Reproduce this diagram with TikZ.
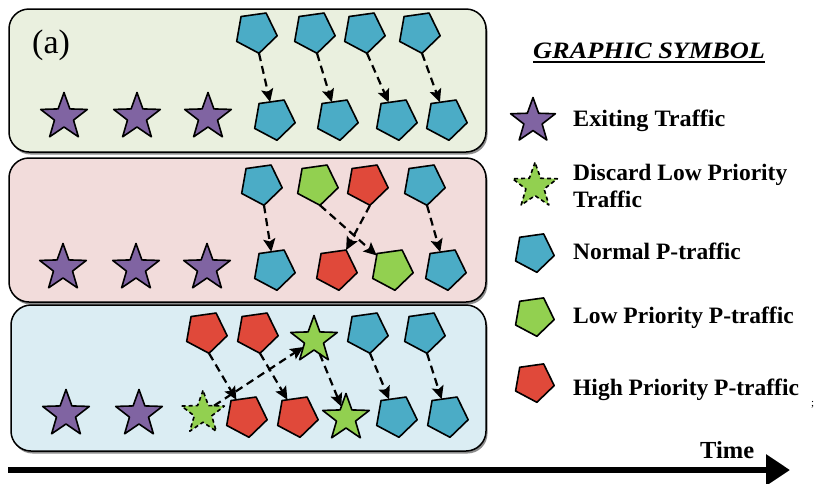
\documentclass[tikz,border=0pt]{standalone}
\usepackage{fontspec}
\setmainfont{Liberation Serif}
\usetikzlibrary{shapes.geometric,arrows.meta}

\definecolor{bgolive}{HTML}{EAF0DF}
\definecolor{bgrose}{HTML}{F2DCDB}
\definecolor{bgaqua}{HTML}{DBEDF3}
\definecolor{pktblue}{HTML}{4BACC6}
\definecolor{pktgreen}{HTML}{92D050}
\definecolor{pktred}{HTML}{E0493A}
\definecolor{pktpurple}{HTML}{8064A2}

\newcommand{\widetext}[2]{\scalebox{#1}[1]{#2}}

\tikzset{
  panel/.style={draw=black, line width=1.5pt, rounded corners=20pt},
  panelshadow/.style={fill=black!45, rounded corners=20pt},
  pent/.style={regular polygon, regular polygon sides=5, minimum size=43pt,
    inner sep=0pt, outer sep=0pt, draw=black, line width=1.6pt, line join=round, rotate=188},
  bluepent/.style={pent, fill=pktblue},
  greenpent/.style={pent, fill=pktgreen},
  redpent/.style={pent, fill=pktred},
  tstar/.style={star, star points=5, star point ratio=2.45, minimum size=49pt,
    inner sep=0pt, outer sep=0pt, draw=black, line width=1.6pt, line join=round},
  exitstar/.style={tstar, fill=pktpurple},
  lowstar/.style={tstar, fill=pktgreen},
  dropstar/.style={tstar, fill=pktgreen, dash pattern=on 4pt off 3pt},
  flow/.style={draw=black, line width=2.2pt, dash pattern=on 8pt off 5pt,
    -{Stealth[length=13pt,width=12pt,inset=2.5pt]}},
  legendtext/.style={anchor=base west, inner sep=0pt,
    font=\fontsize{23.5}{27}\selectfont\bfseries},
}

\begin{document}
\begin{tikzpicture}[x=1pt,y=-1pt]
\useasboundingbox (0,0) rectangle (821,483);
\fill[white] (0,0) rectangle (821,483);

% three time lines
\fill[panelshadow] (10.5,11) rectangle (487.5,154.5);
\filldraw[panel, fill=bgolive] (9,9) rectangle (486,152);
\fill[panelshadow] (10.5,160) rectangle (487.5,304.5);
\filldraw[panel, fill=bgrose] (9,158) rectangle (486,302);
\fill[panelshadow] (12.5,307) rectangle (487.5,453.5);
\filldraw[panel, fill=bgaqua] (11,305) rectangle (486,451);

\node[anchor=base west, inner sep=0pt, font=\fontsize{34}{38}\selectfont] (lbl) at (32,53) {(a)};

% ---- first time line
\node[exitstar] (a1) at (64,117) {};
\node[exitstar] (a2) at (137,117) {};
\node[exitstar] (a3) at (208,117) {};
\node[bluepent] (at1) at (256,32) {};
\node[bluepent] (at2) at (314,32) {};
\node[bluepent] (at3) at (364,32) {};
\node[bluepent] (at4) at (419,32) {};
\node[bluepent] (ab1) at (274,119) {};
\node[bluepent] (ab2) at (337,119) {};
\node[bluepent] (ab3) at (396,119) {};
\node[bluepent] (ab4) at (446,119) {};
\draw[flow] (at1.corner 1) -- (ab1);
\draw[flow] (at2.corner 1) -- (ab2);
\draw[flow] (at3.corner 1) -- (ab3);
\draw[flow] (at4.corner 1) -- (ab4);

% ---- second time line
\node[exitstar] (b1) at (63,268) {};
\node[exitstar] (b2) at (136,268) {};
\node[exitstar] (b3) at (207,268) {};
\node[bluepent] (bt1) at (261,184) {};
\node[greenpent] (bt2) at (317,184) {};
\node[redpent] (bt3) at (367,184) {};
\node[bluepent] (bt4) at (424,184) {};
\node[bluepent] (bb1) at (274,269) {};
\node[redpent] (bb2) at (336,269) {};
\node[greenpent] (bb3) at (392,269) {};
\node[bluepent] (bb4) at (445,269) {};
\draw[flow] (bt1.corner 1) -- (bb1);
\draw[flow] (bt2.corner 1) -- (bb3);
\draw[flow] (bt3.corner 1) -- (bb2);
\draw[flow] (bt4.corner 1) -- (bb4);

% ---- third time line
\node[exitstar] (c1) at (66,414) {};
\node[exitstar] (c2) at (139,414) {};
\node[dropstar, minimum size=45pt] (c3) at (203,413) {};
\node[redpent] (ct1) at (206,332) {};
\node[redpent] (ct2) at (257,332) {};
\node[lowstar] (ct3) at (314,340) {};
\node[bluepent] (ct4) at (367,332) {};
\node[bluepent] (ct5) at (424,332) {};
\node[redpent] (cb1) at (246,416) {};
\node[redpent] (cb2) at (297,416) {};
\node[lowstar] (cb3) at (346,418) {};
\node[bluepent] (cb4) at (396,416) {};
\node[bluepent] (cb5) at (447,416) {};
\draw[flow] (ct1.corner 1) -- (cb1);
\draw[flow] (ct2.corner 1) -- (cb2);
\draw[flow] (c3) -- (ct3);
\draw[flow] (ct3) -- (cb3);
\draw[flow] (ct4.corner 1) -- (cb4);
\draw[flow] (ct5.corner 1) -- (cb5);

% ---- legend
\node[anchor=base west, inner sep=0pt, font=\fontsize{23.5}{27}\selectfont\bfseries\itshape] (lgtitle) at (533,58) {\widetext{1.12}{GRAPHIC SYMBOL}};
\draw[line width=1.8pt] ([yshift=-4pt]lgtitle.base west) -- ([yshift=-4pt]lgtitle.base east);
\node[exitstar, minimum size=47pt] (l1) at (533,121) {};
\node[legendtext] (l1t) at (573,126) {\widetext{1.03}{Exiting Traffic}};
\node[dropstar, minimum size=47pt] (l2) at (535,186) {};
\node[legendtext] (l2t) at (573,180) {Discard Low Priority};
\node[legendtext] (l2u) at (573,207) {Traffic};
\node[bluepent, minimum size=41pt] (l3) at (534,252) {};
\node[legendtext] (l3t) at (573,259) {Normal P-traffic};
\node[greenpent, minimum size=41pt] (l4) at (534,316) {};
\node[legendtext] (l4t) at (573,323) {Low Priority P-traffic};
\node[redpent, minimum size=41pt] (l5) at (534,382) {};
\node[legendtext] (l5t) at (573,395) {High Priority P-traffic};
\node[anchor=base west, inner sep=0pt, font=\fontsize{11}{12}\selectfont] (l5s) at (811,406) {;};

% ---- time axis
\coordinate (tstart) at (8,470);
\coordinate (tend) at (790,470);
\draw[line width=6pt, -{Triangle[length=24pt,width=30pt]}] (tstart) -- (tend);
\node[legendtext, font=\fontsize{24.5}{27}\selectfont\bfseries] (tlabel) at (700,458) {Time};
\end{tikzpicture}
\end{document}
